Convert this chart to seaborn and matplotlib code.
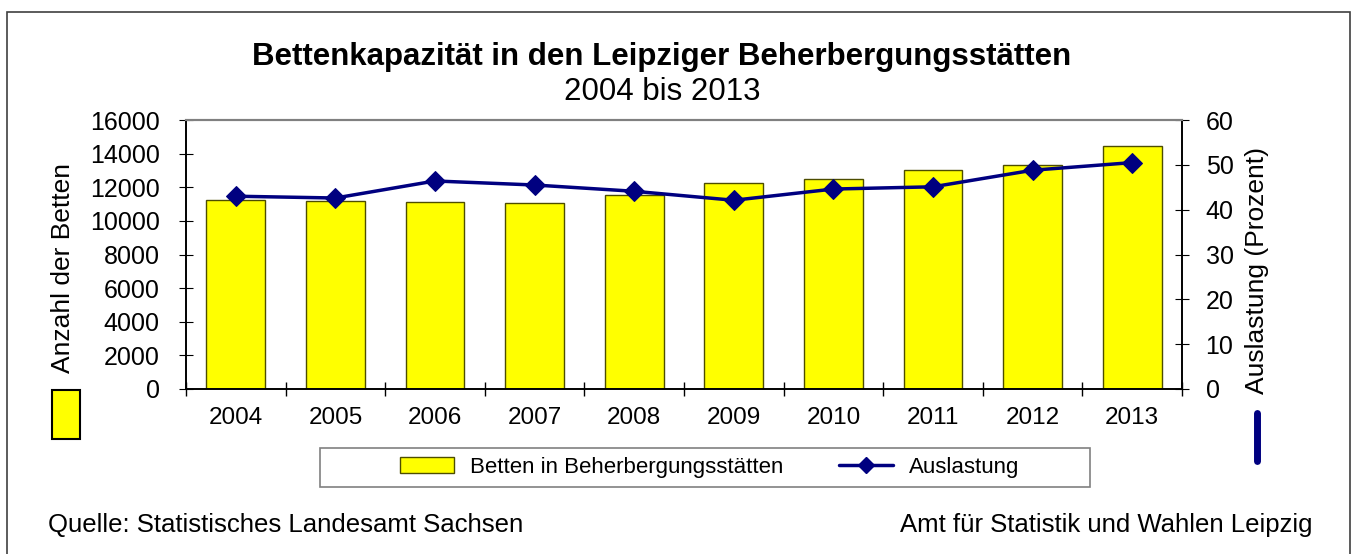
import matplotlib
matplotlib.use("Agg")
import matplotlib.pyplot as plt
import seaborn as sns
import pandas as pd
from matplotlib.patches import Rectangle
from matplotlib.lines import Line2D
from matplotlib.ticker import FixedLocator

# data
years = ["2004", "2005", "2006", "2007", "2008", "2009", "2010", "2011", "2012", "2013"]
betten = [11240, 11200, 11120, 11060, 11540, 12270, 12480, 13020, 13330, 14480]
auslastung = [43.0, 42.6, 46.4, 45.5, 44.1, 42.1, 44.6, 45.1, 48.8, 50.5]

df = pd.DataFrame({"Jahr": years, "Betten": betten, "Auslastung": auslastung})

sns.set_style("white", {"text.color": "black", "xtick.color": "black", "ytick.color": "black",
                        "axes.labelcolor": "black"})
plt.rcParams["font.family"] = ["Liberation Sans", "DejaVu Sans"]

W, H = 1352, 554
fig = plt.figure(figsize=(W / 100, H / 100), dpi=100)
ax = fig.add_axes([186 / W, 1 - 389 / H, (1182 - 186) / W, (389 - 120) / H])

sns.barplot(data=df, x="Jahr", y="Betten", color="#FFFF00", saturation=1,
            edgecolor="#4d4d00", linewidth=1, width=0.59, ax=ax)
ax.set_xlim(-0.5, 9.5)
ax.set_ylim(0, 16000)
ax.set_yticks(range(0, 16001, 2000))
ax.set_xlabel("")
ax.set_ylabel("")

ax2 = ax.twinx()
sns.lineplot(data=df, x="Jahr", y="Auslastung", color="#000080", linewidth=2.5,
             marker="D", markersize=10, markeredgecolor="#000080", ax=ax2)
ax2.set_ylim(0, 60)
ax2.set_yticks(range(0, 61, 10))
ax2.set_ylabel("")
ax2.set_xlim(-0.5, 9.5)

# ticks: year labels centred, tick marks on category boundaries
ax.xaxis.set_minor_locator(FixedLocator([i - 0.5 for i in range(11)]))
ax.tick_params(axis="x", which="major", length=0, labelsize=17.5, pad=13)
ax.tick_params(axis="x", which="minor", length=10, direction="inout", color="black", width=1, bottom=True)
ax.tick_params(axis="y", length=10, direction="inout", labelsize=18, pad=14, left=True, color="black")
ax2.tick_params(axis="y", length=10, direction="inout", labelsize=18, pad=12, right=True, color="black")

for a in (ax, ax2):
    for s in ("left", "bottom", "right"):
        a.spines[s].set_color("black")
        a.spines[s].set_linewidth(1.2)
    a.spines["top"].set_color("#808080")
    a.spines["top"].set_linewidth(1.5)

# titles and axis labels
fig.text(662 / W, 1 - 57 / H, "Bettenkapazität in den Leipziger Beherbergungsstätten",
         ha="center", va="center", fontsize=22.5, fontweight="bold")
fig.text(662 / W, 1 - 92 / H, "2004 bis 2013", ha="center", va="center", fontsize=22.5)
fig.text(63 / W, 1 - 268 / H, "Anzahl der Betten", rotation=90, ha="center", va="center", fontsize=19)
fig.text(1257 / W, 1 - 270 / H, "Auslastung (Prozent)", rotation=90, ha="center", va="center", fontsize=19)

# axis keys as in the original
fig.patches.append(Rectangle((52 / W, 1 - 439 / H), 28 / W, 49 / H, transform=fig.transFigure,
                             facecolor="#FFFF00", edgecolor="black", linewidth=1.5))
fig.lines.append(Line2D([1257 / W, 1257 / W], [1 - 413 / H, 1 - 461 / H], transform=fig.transFigure,
                        color="#000080", linewidth=5))

# legend (frame drawn separately to get the wide box)
fig.patches.append(Rectangle((320 / W, 1 - 487 / H), (1090 - 320) / W, 39 / H, transform=fig.transFigure,
                             facecolor="white", edgecolor="#808080", linewidth=1.2))
handles = [Rectangle((0, 0), 1, 1, facecolor="#FFFF00", edgecolor="#4d4d00", linewidth=1),
           Line2D([], [], color="#000080", linewidth=2.5, marker="D", markersize=8)]
leg = fig.legend(handles, ["Betten in Beherbergungsstätten", "Auslastung"], ncol=2,
                 loc="center", bbox_to_anchor=(710 / W, 1 - 467 / H), frameon=False,
                 fontsize=16, handlelength=2.4, handleheight=0.7,
                 columnspacing=2.5, borderpad=0, handletextpad=0.75, borderaxespad=0)

# footer
fig.text(48 / W, 1 - 525 / H, "Quelle: Statistisches Landesamt Sachsen", ha="left", va="center", fontsize=18.5)
fig.text(1312 / W, 1 - 525 / H, "Amt für Statistik und Wahlen Leipzig", ha="right", va="center", fontsize=18.5)

# outer frame
fig.patches.append(Rectangle((7 / W, -0.01), (1350 - 7) / W, 1 - 12 / H + 0.01, transform=fig.transFigure,
                             facecolor="none", edgecolor="#404040", linewidth=1.2))

fig.savefig("out.png", dpi=100)
